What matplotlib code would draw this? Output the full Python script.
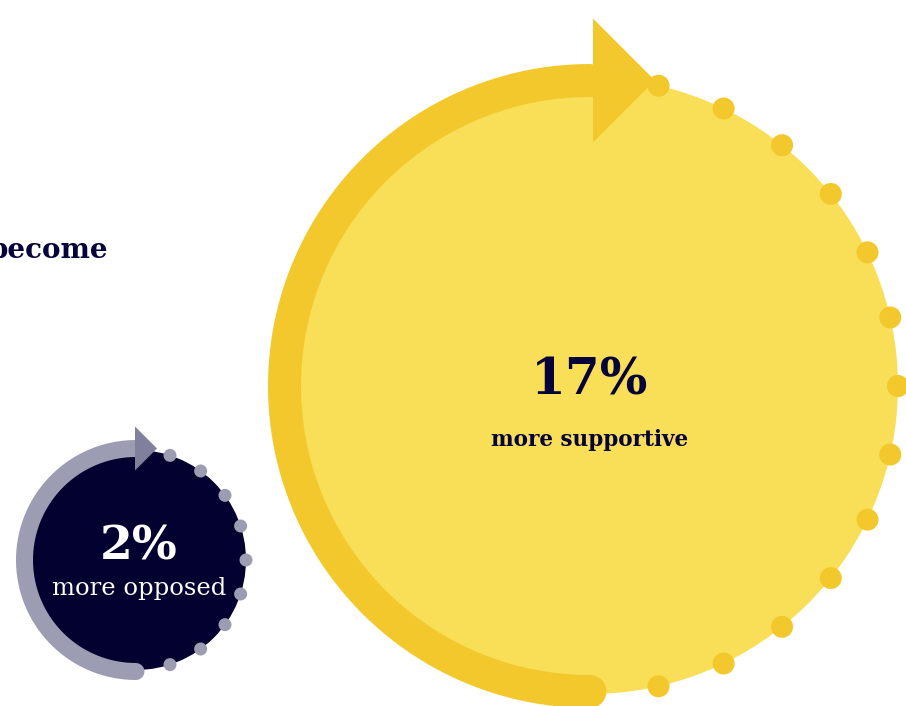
import numpy as np
import matplotlib.pyplot as plt
from matplotlib.patches import Circle, Polygon

# shift in opinion, in percent
values = [17, 2]
labels = ["more supportive", "more opposed"]
value_text = [f"{v}%" for v in values]
heading = "become"

# layout in pixel units (x right, y down)
centers = [(590, 386), (136, 560)]
radii = [308, 110]
ring_radius = [305.5, 111.5]
ring_width = [33, 17]
arrow_half = [62, 22]
arrow_shift = [3, -1]
n_dots = [13, 9]
dot_size = [11, 6.5]
disk_colors = ["#F9DE57", "#02012F"]
ring_colors = ["#F3C82C", "#9C9CB3"]
arrow_colors = ["#F3C82C", "#80809D"]
dot_colors = ["#F3C82C", "#9C9CB3"]
text_colors = ["#05033A", "#FFFFFF"]
value_size = [36, 34]
label_size = [15.5, 17.5]
label_weight = ["bold", "normal"]
text_dx = [0, 3]
text_dy = [(-5, 54), (-13, 28)]

W, H = 906, 706
fig = plt.figure(figsize=(W / 100, H / 100), dpi=100)
ax = fig.add_axes([0, 0, 1, 1])
ax.set_xlim(0, W)
ax.set_ylim(H, 0)
ax.set_aspect("equal")
ax.axis("off")

px = 72 / 100  # points per pixel

for i in range(len(values)):
    cx, cy = centers[i]
    r = radii[i]
    ax.add_patch(Circle((cx, cy), r, color=disk_colors[i], lw=0, zorder=1))

    # left half ring, from the bottom round to the top
    rr = ring_radius[i]
    t = np.linspace(-np.pi / 2, -3 * np.pi / 2, 200)
    ax.plot(cx + rr * np.cos(t), cy - rr * np.sin(t), color=ring_colors[i],
            lw=ring_width[i] * px, solid_capstyle="round", zorder=2)

    # arrow head at the top, pointing clockwise
    hh = arrow_half[i]
    bx = cx + arrow_shift[i]
    ty = cy - rr
    ax.add_patch(Polygon([(bx, ty - hh), (bx, ty + hh), (bx + hh, ty)],
                         closed=True, color=arrow_colors[i], lw=0, zorder=3))

    # dotted right half
    n = n_dots[i]
    a = np.pi / 2 - np.arange(1, n + 1) * np.pi / (n + 1)
    for ang in a:
        ax.add_patch(Circle((cx + r * np.cos(ang), cy - r * np.sin(ang)),
                            dot_size[i], color=dot_colors[i], lw=0, zorder=3))

    tx = cx + text_dx[i]
    ax.text(tx, cy + text_dy[i][0], value_text[i], ha="center", va="center",
            color=text_colors[i], fontsize=value_size[i], fontweight="bold",
            family="DejaVu Serif", zorder=4)
    ax.text(tx, cy + text_dy[i][1], labels[i], ha="center", va="center",
            color=text_colors[i], fontsize=label_size[i],
            fontweight=label_weight[i], family="DejaVu Serif", zorder=4)

ax.text(108, 250, heading, ha="right", va="center", color="#05033A",
        fontsize=20, fontweight="bold", family="DejaVu Serif")

fig.savefig("out.png", dpi=100)
